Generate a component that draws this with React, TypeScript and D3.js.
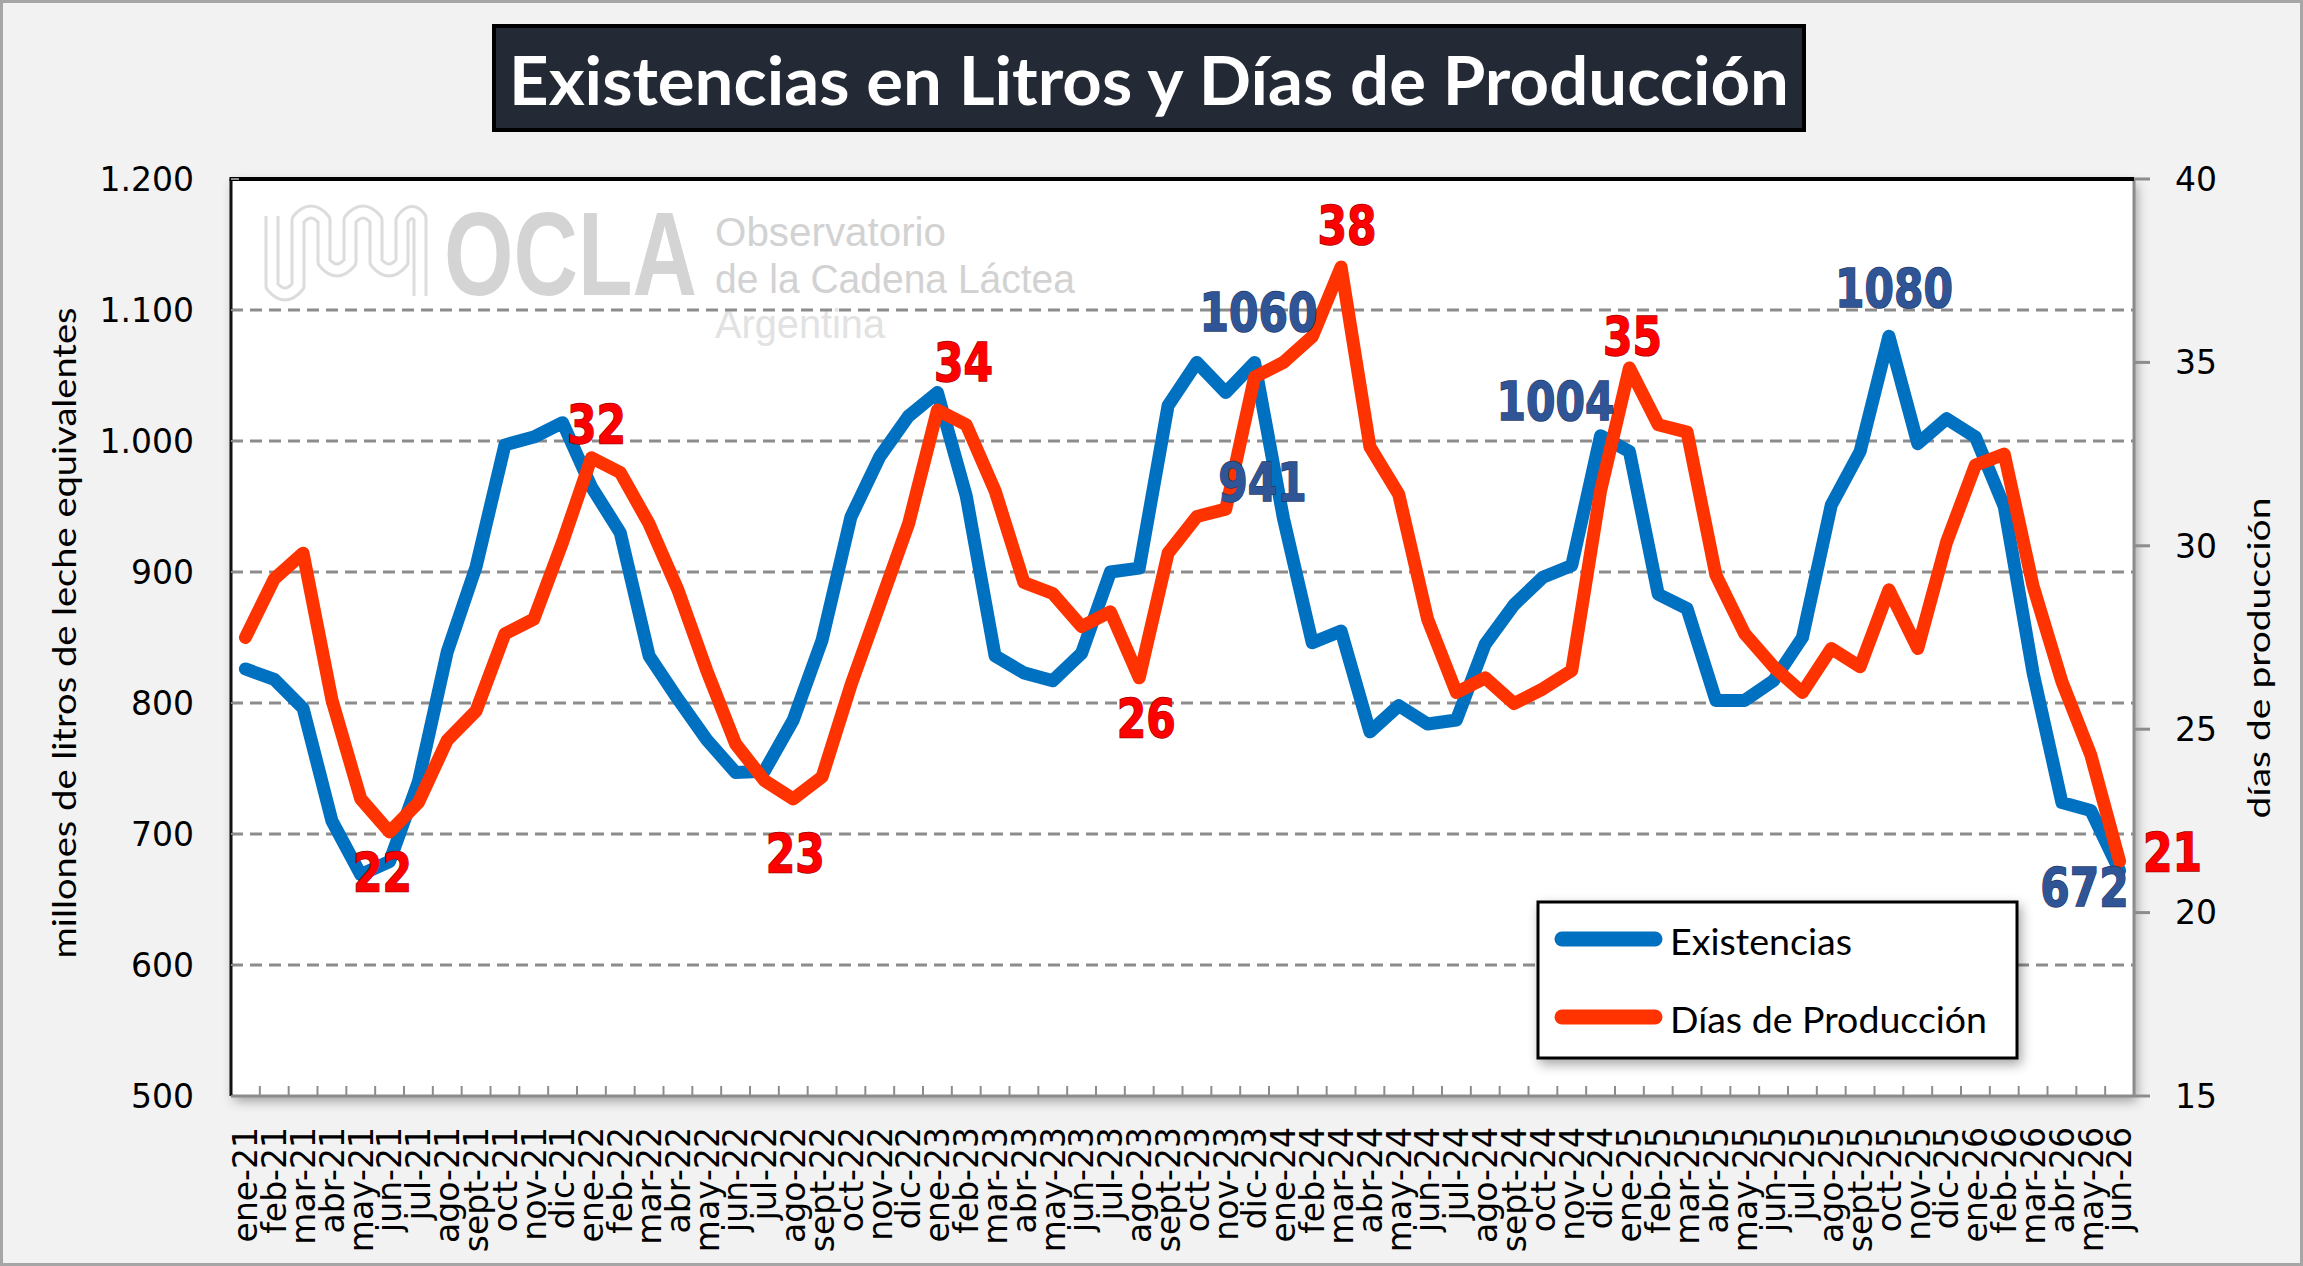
import {useEffect, useRef} from 'react';
import * as d3 from 'd3';

// meses del eje x
const categorias = [
  'ene-21', 'feb-21', 'mar-21', 'abr-21', 'may-21', 'jun-21', 'jul-21', 'ago-21', 'sept-21', 'oct-21', 'nov-21', 'dic-21',
  'ene-22', 'feb-22', 'mar-22', 'abr-22', 'may-22', 'jun-22', 'jul-22', 'ago-22', 'sept-22', 'oct-22', 'nov-22', 'dic-22',
  'ene-23', 'feb-23', 'mar-23', 'abr-23', 'may-23', 'jun-23', 'jul-23', 'ago-23', 'sept-23', 'oct-23', 'nov-23', 'dic-23',
  'ene-24', 'feb-24', 'mar-24', 'abr-24', 'may-24', 'jun-24', 'jul-24', 'ago-24', 'sept-24', 'oct-24', 'nov-24', 'dic-24',
  'ene-25', 'feb-25', 'mar-25', 'abr-25', 'may-25', 'jun-25', 'jul-25', 'ago-25', 'sept-25', 'oct-25', 'nov-25', 'dic-25',
  'ene-26', 'feb-26', 'mar-26', 'abr-26', 'may-26', 'jun-26',
];

// millones de litros de leche equivalentes
const existencias = [
  826, 818, 796, 710, 669, 679, 740, 839, 904, 997, 1003, 1014,
  965, 930, 836, 803, 772, 747, 748, 787, 848, 942, 988, 1019,
  1037, 958, 836, 823, 817, 838, 900, 903, 1027, 1060, 1037, 1060,
  941, 846, 855, 778, 798, 784, 787, 845, 875, 896, 905, 1004,
  992, 883, 872, 802, 802, 817, 850, 951, 992, 1080, 998, 1017,
  1003, 950, 823, 724, 718, 672,
];

// días de producción
const diasProduccion = [
  27.5, 29.1, 29.8, 25.8, 23.1, 22.2, 23.0, 24.7, 25.5, 27.6, 28.0, 30.1,
  32.4, 32.0, 30.6, 28.8, 26.6, 24.6, 23.6, 23.1, 23.7, 26.2, 28.4, 30.6,
  33.7, 33.3, 31.5, 29.0, 28.7, 27.8, 28.2, 26.4, 29.8, 30.8, 31.0, 34.6,
  35.0, 35.7, 37.6, 32.7, 31.4, 28.0, 26.0, 26.4, 25.7, 26.1, 26.6, 31.5,
  34.85, 33.3, 33.1, 29.2, 27.6, 26.7, 26.0, 27.2, 26.7, 28.8, 27.2, 30.1,
  32.2, 32.5, 28.9, 26.3, 24.3, 21.4,
];

// ticks de los ejes
const ticksLitros = [500, 600, 700, 800, 900, 1000, 1100, 1200];
const ticksDias = [15, 20, 25, 30, 35, 40];

// puntos rotulados (índices)
const rotulosExistencias = [35, 36, 47, 57, 65];
const rotulosDias = [5, 12, 19, 24, 31, 38, 48, 65];

// layout
const W = 2303;
const H = 1266;
const plot = {left: 231, right: 2134, top: 179, bottom: 1096};
const offExist: [number, number][] = [[4, -31], [-21, -17], [-45, -16], [5, -29], [-35, 35]];
const offDias: [number, number][] = [[-7, 59], [5, -15], [2, 73], [26, -29], [7, 59], [6, -23], [3, -13], [53, 10]];

const azul = '#0070C0';
const rojo = '#FF3300';
const fTick = '"DejaVu Sans", Verdana, sans-serif';
const fCal = 'Lato, "Open Sans", sans-serif';

const fmt = d3.formatLocale({decimal: ',', thousands: '.', grouping: [3], currency: ['$', '']}).format(',');

export default function App() {
  const ref = useRef<SVGSVGElement>(null);
  useEffect(() => {
    if (!ref.current)
      return;
    const svg = d3.select(ref.current);
    svg.selectAll('*').remove();

    // scales
    const x = d3.scaleBand<string>().domain(categorias).range([plot.left, plot.right]);
    const cx = (i: number) => (x(categorias[i]) ?? 0) + x.bandwidth() / 2;
    const yL = d3.scaleLinear().domain([500, 1200]).range([plot.bottom, plot.top]);
    const yR = d3.scaleLinear().domain([15, 40]).range([plot.bottom, plot.top]);

    // shadow filter
    const defs = svg.append('defs');
    const filtro = defs.append('filter').attr('id', 'sombra')
      .attr('x', '-10%').attr('y', '-10%').attr('width', '120%').attr('height', '125%');
    filtro.append('feDropShadow')
      .attr('dx', 3).attr('dy', 5).attr('stdDeviation', 6)
      .attr('flood-color', '#000').attr('flood-opacity', 0.35);

    // background
    svg.append('rect')
      .attr('x', 1.5).attr('y', 1.5).attr('width', W - 3).attr('height', H - 3)
      .attr('fill', '#f2f2f2').attr('stroke', '#a6a6a6').attr('stroke-width', 3);

    // title
    svg.append('rect')
      .attr('x', 494).attr('y', 26).attr('width', 1310).attr('height', 104)
      .attr('fill', '#232935').attr('stroke', '#000').attr('stroke-width', 4);
    svg.append('text')
      .attr('x', 1149).attr('y', 105)
      .attr('text-anchor', 'middle')
      .attr('font-family', fCal).attr('font-weight', 700).attr('font-size', 66)
      .attr('fill', '#fff')
      .attr('textLength', 1280).attr('lengthAdjust', 'spacingAndGlyphs')
      .text('Existencias en Litros y Días de Producción');

    // plot area
    svg.append('rect')
      .attr('x', plot.left).attr('y', plot.top)
      .attr('width', plot.right - plot.left).attr('height', plot.bottom - plot.top)
      .attr('fill', '#fff').attr('filter', 'url(#sombra)');

    // watermark
    const marca = svg.append('g');
    const serp = 'M272,216 L272,286 Q285,302 298,286 L298,220 Q311,204 324,220 L324,262 Q337,278 350,262 L350,220 Q363,204 376,220 L376,262 Q389,278 402,262 L402,220 Q412,206 420,218 L420,296';
    marca.append('path').attr('d', serp).attr('fill', 'none')
      .attr('stroke', '#dcdcdc').attr('stroke-width', 15).attr('stroke-linejoin', 'round');
    marca.append('path').attr('d', serp).attr('fill', 'none')
      .attr('stroke', '#fff').attr('stroke-width', 9).attr('stroke-linejoin', 'round');
    marca.append('text')
      .attr('x', 444).attr('y', 295)
      .attr('font-family', '"Liberation Sans", Arial, sans-serif').attr('font-weight', 700).attr('font-size', 119)
      .attr('fill', '#d4d4d4')
      .attr('textLength', 253).attr('lengthAdjust', 'spacingAndGlyphs')
      .text('OCLA');
    const marcaTextos: [string, number, number, string][] = [
      ['Observatorio', 246, 231, '#d2d2d2'],
      ['de la Cadena Láctea', 293, 360, '#d2d2d2'],
      ['Argentina', 338, 170, '#e2e2e2'],
    ];
    marcaTextos.forEach(([t, yy, len, col]) => {
      marca.append('text')
        .attr('x', 715).attr('y', yy)
        .attr('font-family', '"Liberation Sans", Arial, sans-serif').attr('font-size', 41)
        .attr('fill', col)
        .attr('textLength', len).attr('lengthAdjust', 'spacingAndGlyphs')
        .text(t);
    });

    // grid
    svg.append('g')
      .selectAll('line')
      .data(ticksLitros.filter(v => v > 500 && v < 1200))
      .enter()
      .append('line')
      .attr('x1', plot.left).attr('x2', plot.right)
      .attr('y1', d => yL(d)).attr('y2', d => yL(d))
      .attr('stroke', '#8c8c8c').attr('stroke-width', 3).attr('stroke-dasharray', '12 7');

    // frame
    svg.append('line').attr('x1', plot.left).attr('x2', plot.right).attr('y1', plot.bottom).attr('y2', plot.bottom)
      .attr('stroke', '#8c8c8c').attr('stroke-width', 3);
    svg.append('line').attr('x1', plot.right).attr('x2', plot.right).attr('y1', plot.top).attr('y2', plot.bottom)
      .attr('stroke', '#8c8c8c').attr('stroke-width', 3);
    svg.append('line').attr('x1', plot.left).attr('x2', plot.left).attr('y1', plot.top).attr('y2', plot.bottom)
      .attr('stroke', '#111').attr('stroke-width', 3);
    svg.append('line').attr('x1', plot.left - 1.5).attr('x2', plot.right).attr('y1', plot.top).attr('y2', plot.top)
      .attr('stroke', '#000').attr('stroke-width', 4);

    // x ticks (between categories)
    svg.append('g')
      .selectAll('line')
      .data(d3.range(1, categorias.length))
      .enter()
      .append('line')
      .attr('x1', i => plot.left + i * x.step()).attr('x2', i => plot.left + i * x.step())
      .attr('y1', plot.bottom).attr('y2', plot.bottom - 10)
      .attr('stroke', '#8c8c8c').attr('stroke-width', 2);

    // left ticks + labels
    const gL = svg.append('g');
    gL.selectAll('line')
      .data(ticksLitros)
      .enter()
      .append('line')
      .attr('x1', plot.left).attr('x2', plot.left + 8)
      .attr('y1', d => yL(d)).attr('y2', d => yL(d))
      .attr('stroke', '#8c8c8c').attr('stroke-width', 2);
    gL.selectAll('text')
      .data(ticksLitros)
      .enter()
      .append('text')
      .attr('x', 194).attr('y', d => yL(d)).attr('dy', '0.36em')
      .attr('text-anchor', 'end')
      .attr('font-family', fTick).attr('font-size', 33).attr('fill', '#000')
      .text(d => fmt(d));

    // right ticks + labels
    const gR = svg.append('g');
    gR.selectAll('line')
      .data(ticksDias)
      .enter()
      .append('line')
      .attr('x1', plot.right).attr('x2', plot.right + 16)
      .attr('y1', d => yR(d)).attr('y2', d => yR(d))
      .attr('stroke', '#8c8c8c').attr('stroke-width', 3);
    gR.selectAll('text')
      .data(ticksDias)
      .enter()
      .append('text')
      .attr('x', 2175).attr('y', d => yR(d)).attr('dy', '0.36em')
      .attr('font-family', fTick).attr('font-size', 33).attr('fill', '#000')
      .text(d => String(d));

    // x labels
    svg.append('g')
      .selectAll('text')
      .data(categorias)
      .enter()
      .append('text')
      .attr('transform', (d, i) => `translate(${cx(i)},1127) rotate(-90)`)
      .attr('dy', '0.36em')
      .attr('text-anchor', 'end')
      .attr('font-family', fTick).attr('font-size', 33).attr('fill', '#000')
      .text(d => d);

    // axis titles
    svg.append('text')
      .attr('transform', 'translate(76,633) rotate(-90)')
      .attr('text-anchor', 'middle')
      .attr('font-family', fCal).attr('font-size', 33).attr('fill', '#000')
      .attr('textLength', 651).attr('lengthAdjust', 'spacingAndGlyphs')
      .text('millones de litros de leche equivalentes');
    svg.append('text')
      .attr('transform', 'translate(2270,658) rotate(-90)')
      .attr('text-anchor', 'middle')
      .attr('font-family', fCal).attr('font-size', 31).attr('fill', '#000')
      .attr('textLength', 321).attr('lengthAdjust', 'spacingAndGlyphs')
      .text('días de producción');

    // lines
    const lineaL = d3.line<number>().x((d, i) => cx(i)).y(d => yL(d));
    const lineaR = d3.line<number>().x((d, i) => cx(i)).y(d => yR(d));
    svg.append('path')
      .attr('d', lineaL(existencias))
      .attr('fill', 'none').attr('stroke', azul).attr('stroke-width', 13)
      .attr('stroke-linejoin', 'round').attr('stroke-linecap', 'round');
    svg.append('path')
      .attr('d', lineaR(diasProduccion))
      .attr('fill', 'none').attr('stroke', rojo).attr('stroke-width', 13)
      .attr('stroke-linejoin', 'round').attr('stroke-linecap', 'round');

    // data labels
    const rotulo = (xx: number, yy: number, t: string, fill: string, stroke: string) => {
      svg.append('text')
        .attr('x', xx).attr('y', yy)
        .attr('text-anchor', 'middle')
        .attr('font-family', fTick).attr('font-weight', 700).attr('font-size', 54)
        .attr('fill', fill).attr('stroke', stroke).attr('stroke-width', 1.5)
        .attr('paint-order', 'stroke')
        .attr('textLength', t.length * 29.5).attr('lengthAdjust', 'spacingAndGlyphs')
        .text(t);
    };
    rotulosExistencias.forEach((i, k) => {
      const v = existencias[i];
      rotulo(cx(i) + offExist[k][0], yL(v) + offExist[k][1], String(Math.round(v)), '#2F5597', '#1F3864');
    });
    rotulosDias.forEach((i, k) => {
      const v = diasProduccion[i];
      rotulo(cx(i) + offDias[k][0], yR(v) + offDias[k][1], String(Math.round(v)), '#FF0000', '#990000');
    });

    // legend
    const ley = svg.append('g');
    ley.append('rect')
      .attr('x', 1538).attr('y', 902).attr('width', 479).attr('height', 156)
      .attr('fill', '#fff').attr('stroke', '#000').attr('stroke-width', 3)
      .attr('filter', 'url(#sombra)');
    const items: [string, string, number, number][] = [
      ['Existencias', azul, 939, 182],
      ['Días de Producción', rojo, 1017, 317],
    ];
    items.forEach(([t, c, yy, len]) => {
      ley.append('line')
        .attr('x1', 1562).attr('x2', 1655).attr('y1', yy).attr('y2', yy)
        .attr('stroke', c).attr('stroke-width', 15).attr('stroke-linecap', 'round');
      ley.append('text')
        .attr('x', 1670).attr('y', yy + 16)
        .attr('font-family', fCal).attr('font-size', 37).attr('fill', '#000')
        .attr('textLength', len).attr('lengthAdjust', 'spacingAndGlyphs')
        .text(t);
    });
  }, [ref]);

  return <svg
    ref={ref}
    width={W}
    height={H}
    viewBox={`0 0 ${W} ${H}`}
    style={{position: 'absolute', left: 0, top: 0, display: 'block'}}
  />;
}
